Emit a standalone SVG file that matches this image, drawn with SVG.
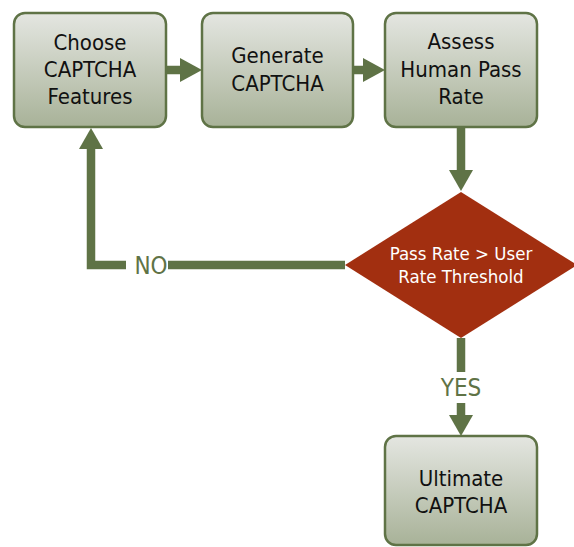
<svg xmlns="http://www.w3.org/2000/svg" width="574" height="547" viewBox="0 0 574 547">
<defs>
<linearGradient id="g" x1="0" y1="0" x2="0" y2="1">
<stop offset="0" stop-color="#e4e6e1"/>
<stop offset="1" stop-color="#a8b298"/>
</linearGradient>
<style>
.box{fill:url(#g);stroke:#5f7346;stroke-width:2.5}
.t{font-family:"DejaVu Sans Condensed","DejaVu Sans",sans-serif;font-stretch:condensed;font-size:22px;fill:#111;text-anchor:middle}
.w{font-family:"DejaVu Sans Condensed","DejaVu Sans",sans-serif;font-stretch:condensed;font-size:18.5px;fill:#fff;text-anchor:middle}
.lbl{font-family:"DejaVu Sans Condensed","DejaVu Sans",sans-serif;font-stretch:condensed;font-size:24px;fill:#5f7346;text-anchor:middle}
.ln{stroke:#5f7346;stroke-width:8.5;fill:none}
.ah{fill:#5f7346}
</style>
</defs>
<rect width="574" height="547" fill="#fff"/>
<g id="connectors">
<line class="ln" x1="166" y1="70" x2="182" y2="70"/>
<polygon class="ah" points="180,58 202,70 180,82"/>
<line class="ln" x1="353" y1="70" x2="365" y2="70"/>
<polygon class="ah" points="363,58 385,70 363,82"/>
<line class="ln" x1="461" y1="127" x2="461" y2="172"/>
<polygon class="ah" points="449,170 461,191 473,170"/>
<line class="ln" x1="345" y1="265" x2="168" y2="265"/>
<polyline class="ln" points="126,265 91,265 91,147"/>
<polygon class="ah" points="79,149 91,128 103,149"/>
<text class="lbl" x="151" y="274">NO</text>
<line class="ln" x1="461" y1="338" x2="461" y2="372"/>
<text class="lbl" x="461" y="396">YES</text>
<line class="ln" x1="461" y1="403" x2="461" y2="417"/>
<polygon class="ah" points="449,415 461,436 473,415"/>
</g>
<g id="n1">
<rect class="box" x="14" y="13" width="152" height="114" rx="11"/>
<text class="t" x="90" y="50">Choose</text>
<text class="t" x="90" y="77">CAPTCHA</text>
<text class="t" x="90" y="104">Features</text>
</g>
<g id="n2">
<rect class="box" x="202" y="13" width="151" height="114" rx="11"/>
<text class="t" x="277.5" y="63">Generate</text>
<text class="t" x="277.5" y="91">CAPTCHA</text>
</g>
<g id="n3">
<rect class="box" x="385" y="13" width="152" height="114" rx="11"/>
<text class="t" x="461" y="49">Assess</text>
<text class="t" x="461" y="77">Human Pass</text>
<text class="t" x="461" y="104">Rate</text>
</g>
<g id="n4">
<polygon points="461,192 577,265 461,338 345,265" fill="#a22f10"/>
<text class="w" x="461" y="260">Pass Rate &gt; User</text>
<text class="w" x="461" y="283">Rate Threshold</text>
</g>
<g id="n5">
<rect class="box" x="385" y="436" width="152" height="109" rx="11"/>
<text class="t" x="461" y="486">Ultimate</text>
<text class="t" x="461" y="513">CAPTCHA</text>
</g>
</svg>
